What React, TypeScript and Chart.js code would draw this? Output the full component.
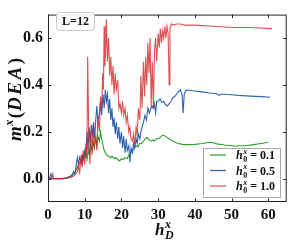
import React, { useEffect, useRef } from "react";
import { Chart, registerables } from "chart.js";

Chart.register(...registerables);

const X_TICKS = [0, 10, 20, 30, 40, 50, 60];
const Y_TICKS = [0, 0.2, 0.4, 0.6];

const greenX = [0, 2, 4, 5, 6, 6.5, 7, 7.5, 8, 8.5, 9, 9.3, 9.6, 10, 10.3, 10.6, 11, 11.3, 11.6, 12, 12.3, 12.6, 13, 13.3, 13.6, 14, 14.3, 14.6, 15, 15.3, 15.6, 16, 16.5, 17, 17.5, 18, 18.5, 19, 19.5, 20, 20.5, 21, 21.5, 22, 22.5, 23, 23.5, 24, 24.5, 25, 25.5, 26, 26.5, 27, 27.5, 28, 28.5, 29, 29.5, 30, 30.5, 31, 31.5, 32, 33, 34, 35, 36, 37, 38, 40, 42, 44, 45, 46, 48, 50, 51, 52, 54, 56, 58, 60];
const greenY = [0, 0, 0, 0.002, 0.005, 0.01, 0.02, 0.03, 0.05, 0.06, 0.08, 0.06, 0.1, 0.09, 0.12, 0.08, 0.12, 0.1, 0.14, 0.12, 0.16, 0.13, 0.17, 0.14, 0.18, 0.16, 0.2, 0.17, 0.14, 0.12, 0.11, 0.1, 0.095, 0.09, 0.095, 0.085, 0.09, 0.08, 0.075, 0.085, 0.08, 0.09, 0.085, 0.1, 0.11, 0.12, 0.13, 0.14, 0.135, 0.15, 0.15, 0.16, 0.17, 0.175, 0.165, 0.16, 0.165, 0.16, 0.17, 0.17, 0.175, 0.183, 0.185, 0.18, 0.17, 0.16, 0.152, 0.148, 0.145, 0.145, 0.146, 0.15, 0.155, 0.153, 0.148, 0.143, 0.14, 0.138, 0.14, 0.14, 0.145, 0.15, 0.155];

const blueX = [0, 0.5, 0.8, 1.1, 2, 4, 5, 6, 6.5, 7, 7.3, 7.6, 8, 8.3, 8.6, 9, 9.3, 9.6, 10, 10.3, 10.6, 10.9, 11.2, 11.5, 11.8, 12.1, 12.4, 12.7, 13, 13.3, 13.6, 14, 14.3, 14.6, 15, 15.3, 15.6, 15.9, 16.2, 16.5, 16.8, 17.1, 17.4, 17.7, 18, 18.3, 18.6, 19, 19.3, 19.6, 20, 20.3, 20.6, 21, 21.3, 21.6, 22, 22.3, 22.6, 23, 23.3, 23.6, 24, 24.3, 24.6, 25, 25.3, 25.6, 26, 26.4, 26.8, 27.2, 27.6, 28, 28.3, 28.7, 29, 29.3, 29.6, 30, 30.5, 31, 31.5, 32, 32.5, 33, 33.5, 34, 34.5, 35, 35.5, 36, 36.5, 36.8, 37.1, 37.5, 38, 39, 40, 42, 44, 46, 46.6, 47, 48, 50, 52, 55, 58, 60.5];
const blueY = [0, 0.005, 0.02, 0, 0, 0, 0.003, 0.01, 0.015, 0.03, 0.02, 0.05, 0.09, 0.06, 0.09, 0.07, 0.1, 0.08, 0.12, 0.09, 0.2, 0.12, 0.22, 0.15, 0.23, 0.18, 0.24, 0.17, 0.25, 0.31, 0.24, 0.28, 0.33, 0.27, 0.36, 0.3, 0.38, 0.33, 0.36, 0.28, 0.34, 0.25, 0.3, 0.22, 0.26, 0.19, 0.24, 0.17, 0.22, 0.15, 0.2, 0.13, 0.18, 0.11, 0.17, 0.12, 0.14, 0.07, 0.13, 0.11, 0.15, 0.13, 0.17, 0.15, 0.19, 0.17, 0.2, 0.22, 0.24, 0.27, 0.25, 0.3, 0.28, 0.3, 0.31, 0.3, 0.32, 0.28, 0.33, 0.33, 0.34, 0.325, 0.33, 0.315, 0.31, 0.32, 0.33, 0.345, 0.35, 0.36, 0.37, 0.38, 0.36, 0.28, 0.36, 0.375, 0.378, 0.376, 0.374, 0.37, 0.365, 0.362, 0.355, 0.36, 0.36, 0.358, 0.355, 0.352, 0.35, 0.347];

const redX = [0, 0.5, 1.0, 1.3, 1.5, 2, 3, 4, 5, 6, 6.5, 7, 7.5, 8, 8.3, 8.6, 9, 9.3, 9.6, 10, 10.3, 10.6, 10.8, 11.1, 11.4, 11.7, 12, 12.3, 12.6, 13, 13.3, 13.6, 14, 14.3, 14.6, 14.9, 15.1, 15.3, 15.5, 15.7, 15.9, 16.2, 16.5, 16.8, 17.1, 17.4, 17.7, 18, 18.3, 18.6, 19, 19.3, 19.6, 20, 20.3, 20.6, 21, 21.3, 21.6, 22, 22.3, 22.6, 23, 23.3, 23.6, 24, 24.3, 24.6, 25, 25.3, 25.6, 26, 26.3, 26.6, 26.9, 27.2, 27.5, 27.8, 28.1, 28.4, 28.7, 29, 29.3, 29.6, 30, 30.3, 30.6, 30.9, 31.2, 31.5, 31.8, 32.1, 32.4, 32.7, 33, 33.2, 33.6, 34, 35, 36, 37, 38, 40, 45, 50, 55, 61];
const redY = [0, 0, 0.005, 0.02, 0, 0, 0, 0, 0.002, 0.005, 0.008, 0.01, 0.02, 0.03, 0.06, 0.02, 0.1, 0.05, 0.12, 0.06, 0.15, 0.1, 0.52, 0.2, 0.06, 0.2, 0.1, 0.23, 0.14, 0.18, 0.12, 0.26, 0.2, 0.35, 0.3, 0.45, 0.38, 0.65, 0.48, 0.55, 0.68, 0.5, 0.6, 0.44, 0.52, 0.4, 0.48, 0.36, 0.45, 0.38, 0.42, 0.3, 0.32, 0.28, 0.33, 0.27, 0.3, 0.24, 0.27, 0.2, 0.22, 0.17, 0.16, 0.19, 0.15, 0.22, 0.18, 0.3, 0.25, 0.44, 0.3, 0.5, 0.35, 0.52, 0.4, 0.58, 0.45, 0.6, 0.31, 0.5, 0.3, 0.55, 0.6, 0.5, 0.62, 0.56, 0.64, 0.58, 0.63, 0.6, 0.65, 0.6, 0.65, 0.62, 0.4, 0.64, 0.66, 0.655, 0.66, 0.66, 0.655, 0.655, 0.655, 0.65, 0.645, 0.645, 0.64];

const SERIES_LABELS = ["0.1", "0.5", "1.0"];
const GREEN = "#2ca02c";
const BLUE = "#2f62ad";
const RED = "rgba(214,39,40,0.8)";

const pts = (xs: number[], ys: number[]) => xs.map((x, i) => ({ x, y: ys[i] }));

const SERIF = "'Liberation Serif', 'DejaVu Serif', serif";

function drawMath(ctx: CanvasRenderingContext2D, x: number, y: number, main: string, sub: string, sup: string, rest: string, size: number) {
  ctx.save();
  ctx.textBaseline = "alphabetic";
  ctx.textAlign = "left";
  ctx.font = `italic bold ${size}px ${SERIF}`;
  ctx.fillText(main, x, y);
  let cx = x + ctx.measureText(main).width + 0.5;
  const small = Math.round(size * 0.68);
  let w = 0;
  if (sub) {
    ctx.font = `${/[0-9]/.test(sub) ? "" : "italic "}bold ${small}px ${SERIF}`;
    ctx.fillText(sub, cx, y + size * 0.25);
    w = ctx.measureText(sub).width;
  }
  if (sup) {
    ctx.font = `italic bold ${small}px ${SERIF}`;
    ctx.fillText(sup, cx, y - size * 0.42);
    w = Math.max(w, ctx.measureText(sup).width);
  }
  cx += w;
  if (rest) {
    ctx.font = `bold ${size}px ${SERIF}`;
    ctx.fillText(rest, cx, y);
  }
  ctx.restore();
}

const overlay = {
  id: "overlay",
  afterDraw(chart: any) {
    const ctx: CanvasRenderingContext2D = chart.ctx;
    const { left, right, top, bottom } = chart.chartArea;
    const xs = chart.scales.x;
    const ys = chart.scales.y;
    ctx.save();
    // frame
    ctx.strokeStyle = "#222";
    ctx.lineWidth = 1;
    ctx.strokeRect(left + 0.5, top + 0.5, right - left - 1, bottom - top - 1);
    // inward ticks
    const tl = 3.5;
    ctx.beginPath();
    X_TICKS.forEach((v) => {
      const px = Math.round(xs.getPixelForValue(v)) + 0.5;
      ctx.moveTo(px, bottom);
      ctx.lineTo(px, bottom - tl);
      ctx.moveTo(px, top);
      ctx.lineTo(px, top + tl);
    });
    Y_TICKS.forEach((v) => {
      const py = Math.round(ys.getPixelForValue(v)) + 0.5;
      ctx.moveTo(left, py);
      ctx.lineTo(left + tl, py);
      ctx.moveTo(right, py);
      ctx.lineTo(right - tl, py);
    });
    ctx.stroke();

    // L=12 box
    ctx.fillStyle = "rgba(255,255,255,0.9)";
    ctx.strokeStyle = "#c8c8c8";
    ctx.beginPath();
    (ctx as any).roundRect(56.5, 12.5, 38, 18, 3);
    ctx.fill();
    ctx.stroke();
    ctx.fillStyle = "#111";
    ctx.font = `bold 12px ${SERIF}`;
    ctx.textAlign = "center";
    ctx.textBaseline = "middle";
    ctx.fillText("L=12", 75.5, 22);

    // legend
    ctx.fillStyle = "rgba(255,255,255,0.9)";
    ctx.strokeStyle = "#aaaaaa";
    ctx.fillRect(203.5, 148.5, 77, 49);
    ctx.strokeRect(203.5, 148.5, 77, 49);
    const cols = [GREEN, BLUE, RED];
    const rowsY = [155, 170.5, 186];
    cols.forEach((c, i) => {
      ctx.strokeStyle = c;
      ctx.lineWidth = 1.2;
      ctx.beginPath();
      ctx.moveTo(210, rowsY[i]);
      ctx.lineTo(226, rowsY[i]);
      ctx.stroke();
      ctx.fillStyle = "#111";
      drawMath(ctx, 236, rowsY[i] + 4, "h", "0", "x", " = " + SERIES_LABELS[i], 12);
    });

    // x title
    ctx.fillStyle = "#111";
    drawMath(ctx, 155, 235, "h", "D", "x", "", 17);

    // y title
    ctx.save();
    ctx.translate(21, 141);
    ctx.rotate(-Math.PI / 2);
    ctx.textBaseline = "alphabetic";
    ctx.textAlign = "left";
    ctx.font = `italic bold 19px ${SERIF}`;
    ctx.fillText("m", 0, 0);
    let cx = ctx.measureText("m").width + 0.5;
    ctx.font = `italic bold 12px ${SERIF}`;
    ctx.fillText("x", cx, -8);
    cx += ctx.measureText("x").width + 1.5;
    ctx.font = `bold 19px ${SERIF}`;
    ctx.fillText("(", cx, 0);
    cx += ctx.measureText("(").width + 1;
    ctx.font = `italic bold 19px ${SERIF}`;
    const word = "DEA";
    for (const ch of word) {
      ctx.fillText(ch, cx, 0);
      cx += ctx.measureText(ch).width + 2.5;
    }
    ctx.font = `bold 19px ${SERIF}`;
    ctx.fillText(")", cx, 0);
    ctx.restore();

    ctx.restore();
  },
};

export default function App() {
  const ref = useRef<HTMLCanvasElement>(null);
  useEffect(() => {
    document.body.style.margin = "0";
    const tickFont = { family: SERIF, weight: "bold" as const, size: 15 };
    const chart = new Chart(ref.current as HTMLCanvasElement, {
      type: "line",
      data: {
        datasets: [
          { label: "0.1", data: pts(greenX, greenY), borderColor: GREEN, order: 2 },
          { label: "0.5", data: pts(blueX, blueY), borderColor: BLUE, order: 1 },
          { label: "1.0", data: pts(redX, redY), borderColor: RED, order: 0 },
        ].map((d) => ({ ...d, borderWidth: 1.1, pointRadius: 0, fill: false, tension: 0 })),
      },
      options: {
        animation: false,
        responsive: false,
        events: [],
        layout: { padding: { top: 4, right: 4.3, left: 0, bottom: 0 } },
        plugins: { legend: { display: false }, tooltip: { enabled: false } },
        scales: {
          x: {
            type: "linear",
            min: 0,
            max: 65,
            afterBuildTicks: (s: any) => {
              s.ticks = X_TICKS.map((v) => ({ value: v }));
            },
            afterFit: (s: any) => {
              s.height = 40;
            },
            ticks: {
              font: tickFont,
              color: "#111",
              padding: 4,
              maxRotation: 0,
              autoSkip: false,
              callback: (v: any) => String(v),
            },
            grid: { display: false, drawTicks: false },
            border: { display: false },
          },
          y: {
            type: "linear",
            min: -0.1,
            max: 0.7,
            afterBuildTicks: (s: any) => {
              s.ticks = Y_TICKS.map((v) => ({ value: v }));
            },
            afterFit: (s: any) => {
              s.width = 48;
            },
            ticks: {
              font: { ...tickFont, size: 16 },
              color: "#111",
              padding: 5,
              autoSkip: false,
              callback: (v: any) => Number(v).toFixed(1),
            },
            grid: { display: false, drawTicks: false },
            border: { display: false },
          },
        },
      },
      plugins: [overlay],
    });
    return () => chart.destroy();
  }, []);
  return (
    <div style={{ position: "absolute", left: 0, top: 0, width: 291, height: 242, background: "#fff" }}>
      <canvas ref={ref} width={291} height={242} style={{ display: "block" }} />
    </div>
  );
}
